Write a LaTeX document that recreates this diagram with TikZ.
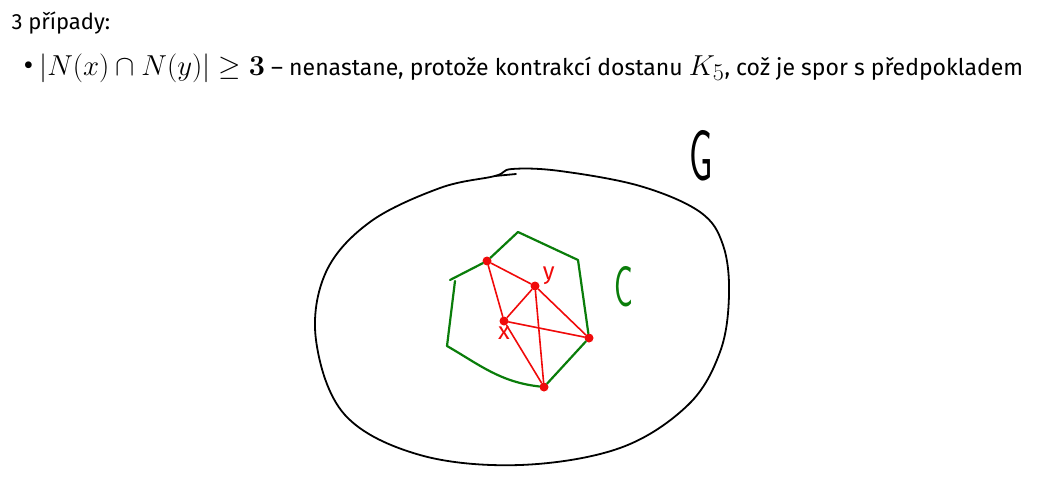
\documentclass[tikz,border=0pt]{standalone}
\usepackage[no-math]{fontspec}
\setmainfont{Fira Sans}
\definecolor{penred}{RGB}{240,10,10}
\definecolor{pengreen}{RGB}{10,125,10}
\newcommand{\bigmath}[1]{{\fontsize{24.88}{30}\selectfont\scalebox{1.16}{$#1$}}}
\tikzset{
  vertex/.style={circle, fill=penred, inner sep=0pt, minimum size=9pt},
  redline/.style={penred, line width=1.6pt, line cap=round},
  greenline/.style={pengreen, line width=2.2pt, line cap=round, line join=round},
  blackline/.style={black, line width=1.8pt, line cap=round, line join=round},
  hand/.style={inner sep=0pt},
}
\begin{document}
\begin{tikzpicture}[x=1pt, y=-1pt]
        \useasboundingbox (0,0) rectangle (1047,487);
        % Text
        \node (head) at (8,30) [anchor=base west, font=\fontsize{22}{26}\selectfont] {3 případy:};
        \node (item) at (20,75) [anchor=base west, font=\fontsize{23}{28}\selectfont]
          {{\fontsize{30}{30}\selectfont\textbullet}\hspace{6pt}\bigmath{|N(x)\cap N(y)|\geq\mathbf{3}} – nenastane, protože kontrakcí dostanu \bigmath{K_5}, což je spor s předpokladem};

        % Graph G
        \draw[blackline] plot[smooth cycle, tension=0.6] coordinates {(512,169) (560,171) (640,186) (700,212) (723,245) (729,295) (720,352) (688,405) (620,448) (520,465) (420,455) (345,415) (316,340) (326,272) (370,222) (440,188) (495,176)};
        \draw[blackline] (495,176) -- (516,174);
        \node (G) at (701,156) [hand, font=\sffamily\fontsize{30}{30}\selectfont] {\scalebox{1.25}[2.4]{G}};

        % Nodes
        \node (a) at (487,261) [vertex] {};
        \node (y) at (535,286) [vertex, label={[penred, font=\fontsize{24}{24}\selectfont, xshift=1pt, yshift=-5pt]above right:y}] {};
        \node (x) at (504,321) [vertex, label={[penred, font=\fontsize{24}{24}\selectfont, yshift=2pt]below:x}] {};
        \node (r) at (589,338) [vertex] {};
        \node (b) at (544,387) [vertex] {};

        % Cycle C
        \draw[greenline] (450,280) -- (a) -- (518,232) -- (578,260) -- (r) -- (b);
        \draw[greenline] (455,281) -- (447,346) .. controls (480,365) and (500,382) .. (b);
        \node (C) at (624,287) [hand, pengreen, font=\sffamily\fontsize{24}{24}\selectfont] {\scalebox{1.3}[2.4]{C}};

        % Edges
        \draw[redline] (a) -- (y);
        \draw[redline] (a) -- (x);
        \draw[redline] (x) -- (y);
        \draw[redline] (y) -- (r);
        \draw[redline] (y) -- (b);
        \draw[redline] (x) -- (r);
        \draw[redline] (x) -- (b);
\end{tikzpicture}
\end{document}
